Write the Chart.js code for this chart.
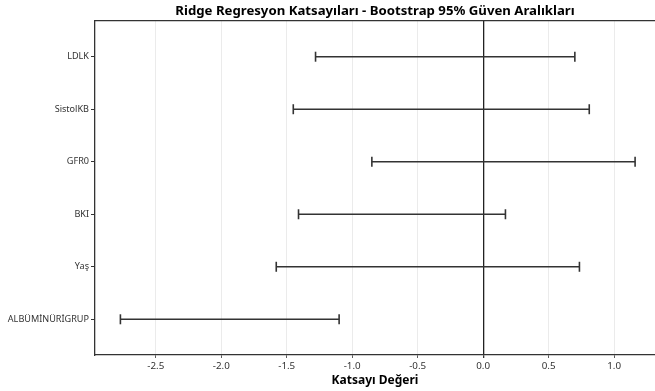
<!DOCTYPE html>
<html>
<head>
<meta charset="utf-8">
<script src="https://cdn.jsdelivr.net/npm/chart.js@4/dist/chart.umd.min.js"></script>
<style>
  html, body { margin: 0; padding: 0; background: #fff; }
  #wrap { width: 655px; height: 391px; }
</style>
</head>
<body>
<div id="wrap"><canvas id="ciChart" width="655" height="391"></canvas></div>
<script>
// Ridge katsayıları - bootstrap %95 güven aralıkları
const variables = ["LDLK", "SistolKB", "GFR0", "BKI", "Yaş", "ALBÜMİNÜRİGRUP"];
const lowerCI = [-1.28, -1.45, -0.85, -1.41, -1.58, -2.77];
const upperCI = [0.70, 0.81, 1.16, 0.17, 0.735, -1.10];
const xTicks = [-2.5, -2.0, -1.5, -1.0, -0.5, 0.0, 0.5, 1.0];

const lineColor = "#333333";

const datasets = variables.map((v, i) => ({
    label: v,
    data: [{ x: lowerCI[i], y: i }, { x: upperCI[i], y: i }],
    showLine: true,
    borderColor: lineColor,
    borderWidth: 1.6,
    pointStyle: "line",
    rotation: 90,
    pointRadius: 5,
    pointBorderWidth: 1.6,
    pointBorderColor: lineColor,
    pointBackgroundColor: lineColor
}));

const ciChart = new Chart(document.getElementById("ciChart"), {
    type: "scatter",
    data: { datasets: datasets },
    options: {
        responsive: false,
        animation: false,
        layout: { padding: 0, autoPadding: false },
        plugins: {
            legend: { display: false },
            tooltip: { enabled: false }
        },
        scales: {
            x: {
                type: "linear",
                position: "bottom",
                min: -2.964,
                max: 1.312,
                afterBuildTicks: (scale) => { scale.ticks = xTicks.map(v => ({ value: v })); },
                afterFit: (scale) => { scale.height = 36; },
                ticks: {
                    callback: (v) => Number(v).toFixed(1),
                    font: { family: "Noto Sans", size: 9.8 },
                    color: "#333333",
                    padding: 2,
                    maxRotation: 0
                },
                grid: {
                    color: (ctx) => ctx.tick && ctx.tick.value === 0 ? "#222222" : "#e6e6e6",
                    lineWidth: (ctx) => ctx.tick && ctx.tick.value === 0 ? 1.3 : 0.8,
                    tickColor: "#333333",
                    tickLength: 3
                },
                border: { color: "#333333", width: 1.3 },
                title: {
                    display: true,
                    text: "Katsayı Değeri",
                    font: { family: "Noto Sans", size: 12, weight: "bold" },
                    color: "#000",
                    padding: { top: 0, bottom: 3 }
                }
            },
            x2: {
                type: "linear",
                position: "top",
                min: -2.964,
                max: 1.312,
                afterFit: (scale) => { scale.height = 21; },
                ticks: { display: false },
                grid: { display: false },
                border: { display: true, color: "#333333", width: 1.3 },
                title: {
                    display: true,
                    text: "Ridge Regresyon Katsayıları - Bootstrap 95% Güven Aralıkları",
                    font: { family: "Noto Sans", size: 13.2, weight: "bold" },
                    color: "#000",
                    padding: { top: 3, bottom: 0 }
                }
            },
            y: {
                type: "linear",
                reverse: true,
                min: -0.68,
                max: 5.68,
                afterBuildTicks: (scale) => { scale.ticks = variables.map((v, i) => ({ value: i })); },
                afterFit: (scale) => { scale.width = 95; },
                ticks: {
                    callback: (v) => variables[v],
                    font: { family: "Noto Sans", size: 9.1 },
                    color: "#333333",
                    padding: 2
                },
                grid: {
                    drawOnChartArea: false,
                    tickColor: "#333333",
                    tickLength: 4
                },
                border: { color: "#333333", width: 1.3 }
            }
        }
    }
});
</script>
</body>
</html>
